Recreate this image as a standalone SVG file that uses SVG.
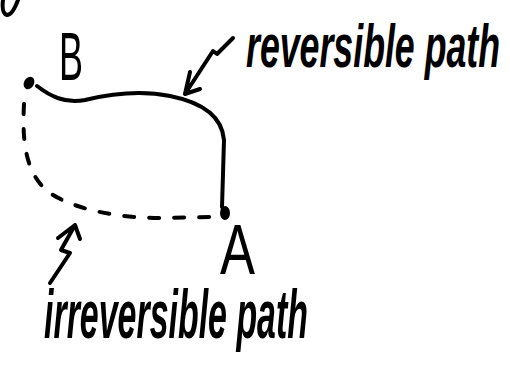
<svg xmlns="http://www.w3.org/2000/svg" width="509" height="366" viewBox="0 0 509 366">
<style>
.ink{fill:none;stroke:#000;stroke-width:4;stroke-linecap:round;stroke-linejoin:round}
.dash{stroke-dasharray:10 15}
.dot{fill:#000}
.hand{font-family:"Liberation Sans",Arial,sans-serif;font-style:italic;font-weight:bold;fill:#000}
.letter{font-family:"Liberation Sans",Arial,sans-serif;fill:#000}
</style>
<rect width="509" height="366" fill="#fff"/>
<path class="ink" d="M3,0 C2,8 3,14 7,15 C11,15 15,8 18,0"/>
<g id="node-B">
<ellipse class="dot" cx="29" cy="83" rx="5" ry="6.5" transform="rotate(30 29 83)"/>
<text class="letter" transform="translate(59 80) scale(1 2)" font-size="34" textLength="24" lengthAdjust="spacingAndGlyphs">B</text>
</g>
<g id="node-A">
<ellipse class="dot" cx="225" cy="213" rx="5" ry="7"/>
<text class="letter" transform="translate(220 274) scale(1 1.48)" font-size="48" textLength="35" lengthAdjust="spacingAndGlyphs">A</text>
</g>
<g id="connectors">
<path class="ink" d="M37,86 C50,96 65,104 85,100 C110,94 140,90 170,96 C200,102 222,115 224,140 L222,207"/>
<path class="ink dash" d="M24,104 C22,140 25,175 50,193 C75,210 120,218 160,218 L213,217"/>
<path class="ink" d="M233,38 L217,54 L213,51 L185,94 M190,72 L185,94 L200,89"/>
<path class="ink" d="M50,283 L70,253 L61,250 L75,225 M58,238 L75,225 L80,239"/>
</g>
<g id="label-reversible">
<text class="hand" transform="translate(246 67) scale(1 1.75)" font-size="35" textLength="254" lengthAdjust="spacingAndGlyphs">reversible path</text>
</g>
<g id="label-irreversible">
<text class="hand" transform="translate(44 338) scale(1 2)" font-size="34" textLength="264" lengthAdjust="spacingAndGlyphs">irreversible path</text>
</g>
</svg>
